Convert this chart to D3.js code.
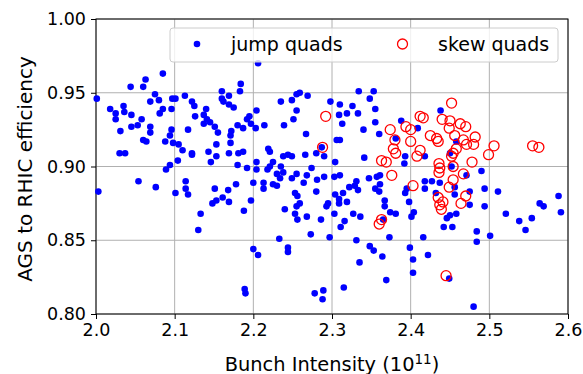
<!DOCTYPE html>
<html>
<head>
<meta charset="utf-8">
<script src="https://cdn.jsdelivr.net/npm/d3@7"></script>
<style>
  body { margin: 0; background: #fff; }
  text { font-family: "DejaVu Sans", sans-serif; }
</style>
</head>
<body>
<div id="chart"></div>
<script>
// data: [bunch intensity (1e11), AGS to RHIC efficiency]
const jumpQuads = [
  [2.001,0.946],[2.085,0.963],[2.063,0.959],[2.044,0.954],[2.060,0.954],[2.075,0.949],[2.069,0.944],[2.080,0.945],[2.085,0.939],[2.081,0.936],
  [2.096,0.939],[2.097,0.946],[2.101,0.946],[2.113,0.948],[2.122,0.944],[2.125,0.941],[2.126,0.934],[2.140,0.939],[2.137,0.935],[2.141,0.932],
  [2.137,0.929],[2.145,0.930],[2.151,0.927],[2.155,0.923],[2.153,0.915],[2.160,0.951],[2.169,0.948],[2.183,0.951],[2.184,0.956],[2.160,0.946],
  [2.162,0.944],[2.169,0.942],[2.175,0.940],[2.204,0.938],[2.206,0.970],[2.195,0.934],[2.192,0.932],[2.197,0.929],[2.203,0.926],[2.187,0.926],
  [2.180,0.928],[2.172,0.924],[2.171,0.921],[2.171,0.916],[2.169,0.909],[2.181,0.909],[2.187,0.910],[2.180,0.901],[2.192,0.899],[2.204,0.903],
  [2.204,0.898],[2.143,0.910],[2.153,0.907],[2.146,0.903],[2.117,0.925],[2.096,0.925],[2.094,0.921],[2.088,0.917],[2.098,0.916],[2.105,0.915],
  [2.110,0.911],[2.122,0.909],[2.122,0.908],[2.104,0.904],[2.094,0.901],[2.089,0.898],[2.018,0.939],[2.025,0.936],[2.025,0.932],[2.035,0.941],
  [2.036,0.937],[2.045,0.935],[2.058,0.932],[2.053,0.928],[2.045,0.927],[2.031,0.924],[2.069,0.927],[2.069,0.923],[2.060,0.918],[2.064,0.917],
  [2.030,0.909],[2.037,0.909],[2.054,0.890],[2.076,0.886],[2.101,0.882],[2.114,0.890],[2.114,0.885],[2.117,0.881],[2.133,0.868],[2.130,0.857],
  [2.003,0.883],[2.151,0.885],[2.148,0.875],[2.153,0.877],[2.161,0.879],[2.168,0.884],[2.169,0.876],[2.178,0.888],[2.197,0.877],[2.188,0.870],
  [2.200,0.889],[2.200,0.844],[2.206,0.840],[2.189,0.817],[2.190,0.814],[2.214,0.928],[2.239,0.928],[2.235,0.944],[2.249,0.945],[2.255,0.949],
  [2.259,0.950],[2.269,0.948],[2.255,0.938],[2.251,0.932],[2.267,0.922],[2.219,0.912],[2.221,0.910],[2.238,0.907],[2.244,0.908],[2.249,0.907],
  [2.266,0.908],[2.280,0.909],[2.290,0.907],[2.287,0.913],[2.225,0.903],[2.221,0.900],[2.218,0.898],[2.235,0.900],[2.274,0.899],[2.304,0.903],
  [2.298,0.944],[2.310,0.942],[2.309,0.935],[2.319,0.936],[2.313,0.929],[2.326,0.941],[2.333,0.936],[2.334,0.951],[2.348,0.946],[2.353,0.951],
  [2.355,0.939],[2.355,0.930],[2.340,0.925],[2.360,0.922],[2.306,0.918],[2.310,0.918],[2.341,0.906],[2.381,0.919],[2.388,0.931],[2.393,0.907],
  [2.392,0.902],[2.409,0.926],[2.438,0.938],[2.458,0.917],[2.418,0.907],[2.450,0.909],[2.452,0.900],[2.490,0.897],[2.238,0.896],[2.230,0.895],
  [2.234,0.892],[2.213,0.889],[2.213,0.885],[2.225,0.888],[2.230,0.887],[2.249,0.892],[2.255,0.895],[2.264,0.889],[2.268,0.894],[2.281,0.891],
  [2.280,0.883],[2.290,0.893],[2.303,0.893],[2.310,0.894],[2.322,0.886],[2.329,0.887],[2.333,0.884],[2.331,0.890],[2.347,0.892],[2.357,0.893],
  [2.361,0.894],[2.361,0.888],[2.355,0.885],[2.360,0.883],[2.395,0.885],[2.398,0.876],[2.404,0.869],[2.401,0.866],[2.304,0.881],[2.309,0.878],
  [2.314,0.882],[2.319,0.876],[2.309,0.875],[2.295,0.875],[2.293,0.873],[2.253,0.882],[2.256,0.880],[2.259,0.875],[2.255,0.873],[2.240,0.871],
  [2.253,0.868],[2.256,0.864],[2.268,0.866],[2.286,0.864],[2.303,0.868],[2.316,0.863],[2.311,0.859],[2.327,0.868],[2.336,0.866],[2.367,0.877],
  [2.367,0.873],[2.374,0.869],[2.381,0.868],[2.365,0.864],[2.373,0.852],[2.273,0.854],[2.297,0.852],[2.233,0.851],[2.244,0.845],[2.244,0.842],
  [2.331,0.850],[2.348,0.846],[2.353,0.843],[2.364,0.839],[2.335,0.835],[2.369,0.823],[2.315,0.818],[2.278,0.814],[2.289,0.816],[2.288,0.810],
  [2.393,0.882],[2.471,0.894],[2.494,0.885],[2.511,0.883],[2.588,0.880],[2.564,0.875],[2.569,0.873],[2.591,0.869],[2.521,0.868],[2.538,0.863],
  [2.554,0.865],[2.546,0.857],[2.501,0.853],[2.484,0.856],[2.484,0.849],[2.494,0.873],[2.475,0.874],[2.475,0.883],[2.458,0.868],[2.450,0.867],
  [2.446,0.865],[2.442,0.859],[2.453,0.859],[2.416,0.852],[2.399,0.845],[2.403,0.837],[2.403,0.828],[2.422,0.840],[2.449,0.824],[2.480,0.805],
  [2.418,0.890],[2.418,0.885],[2.427,0.890],[2.432,0.882],[2.437,0.889],[2.456,0.886],[2.456,0.881]
];

const skewQuads = [
  [2.292,0.934],[2.288,0.913],[2.374,0.925],[2.394,0.927],[2.400,0.925],[2.380,0.918],[2.400,0.917],[2.378,0.912],[2.381,0.909],[2.363,0.904],
  [2.369,0.903],[2.408,0.907],[2.412,0.934],[2.376,0.894],[2.452,0.943],[2.416,0.933],[2.440,0.932],[2.450,0.931],[2.463,0.929],[2.470,0.927],
  [2.449,0.926],[2.456,0.921],[2.425,0.921],[2.433,0.919],[2.435,0.917],[2.467,0.918],[2.482,0.920],[2.480,0.915],[2.471,0.915],[2.506,0.914],
  [2.499,0.908],[2.555,0.914],[2.563,0.913],[2.412,0.911],[2.458,0.912],[2.454,0.909],[2.452,0.907],[2.478,0.903],[2.436,0.902],[2.437,0.899],
  [2.454,0.900],[2.436,0.896],[2.454,0.891],[2.467,0.895],[2.449,0.886],[2.403,0.887],[2.435,0.879],[2.441,0.876],[2.437,0.874],[2.439,0.871],
  [2.470,0.880],[2.464,0.875],[2.445,0.826],[2.363,0.864],[2.360,0.861]
];

const xTicks = [2.0, 2.1, 2.2, 2.3, 2.4, 2.5, 2.6];
const yTicks = [0.80, 0.85, 0.90, 0.95, 1.00];
const seriesNames = ["jump quads", "skew quads"];

class ScatterVis {
  constructor(parentElement) {
    this.parentElement = parentElement;
    this.initVis();
  }

  initVis() {
    let vis = this;

    vis.margin = { top: 19, right: 15, bottom: 60, left: 96 };
    vis.width = 583 - vis.margin.left - vis.margin.right;
    vis.height = 374 - vis.margin.top - vis.margin.bottom;

    vis.svg = d3
      .select("#" + vis.parentElement)
      .append("svg")
      .attr("width", 583)
      .attr("height", 374)
      .append("g")
      .attr("transform", `translate(${vis.margin.left},${vis.margin.top})`);

    vis.x = d3.scaleLinear().domain([2.0, 2.6]).range([0, vis.width]);
    vis.y = d3.scaleLinear().domain([0.8, 1.0]).range([vis.height, 0]);

    // grid
    vis.svg
      .append("g")
      .selectAll("line")
      .data(xTicks)
      .enter()
      .append("line")
      .attr("x1", (d) => vis.x(d))
      .attr("x2", (d) => vis.x(d))
      .attr("y1", 0)
      .attr("y2", vis.height)
      .attr("stroke", "#b0b0b0")
      .attr("stroke-width", 1);

    vis.svg
      .append("g")
      .selectAll("line")
      .data(yTicks)
      .enter()
      .append("line")
      .attr("y1", (d) => vis.y(d))
      .attr("y2", (d) => vis.y(d))
      .attr("x1", 0)
      .attr("x2", vis.width)
      .attr("stroke", "#b0b0b0")
      .attr("stroke-width", 1);

    // axes
    vis.xAxis = d3.axisBottom(vis.x).tickValues(xTicks).tickSize(5).tickPadding(5).tickFormat(d3.format(".1f"));
    vis.yAxis = d3.axisLeft(vis.y).tickValues(yTicks).tickSize(5).tickPadding(5).tickFormat(d3.format(".2f"));

    vis.svg
      .append("g")
      .attr("class", "x-axis")
      .attr("transform", `translate(0,${vis.height})`)
      .call(vis.xAxis);

    vis.svg.append("g").attr("class", "y-axis").call(vis.yAxis);

    vis.svg.selectAll(".x-axis .domain, .y-axis .domain").remove();
    vis.svg.selectAll(".tick line").attr("stroke", "#000").attr("stroke-width", 1);
    vis.svg
      .selectAll(".tick text")
      .attr("fill", "#000")
      .style("font-family", "DejaVu Sans")
      .style("font-size", "17.5px");

    // frame
    vis.svg
      .append("rect")
      .attr("width", vis.width)
      .attr("height", vis.height)
      .attr("fill", "none")
      .attr("stroke", "#000")
      .attr("stroke-width", 1);

    // axis labels
    let xLabel = vis.svg
      .append("text")
      .attr("x", vis.width / 2)
      .attr("y", vis.height + 57)
      .attr("text-anchor", "middle")
      .style("font-size", "19.4px");
    xLabel.append("tspan").text("Bunch Intensity (10");
    xLabel.append("tspan").text("11").attr("dy", -7.5).style("font-size", "13.5px");
    xLabel.append("tspan").text(")").attr("dy", 7.5);

    vis.svg
      .append("text")
      .attr("transform", `translate(-64,${vis.height / 2 + 2.5}) rotate(-90)`)
      .attr("text-anchor", "middle")
      .style("font-size", "20px")
      .text("AGS to RHIC efficiency");

    vis.updateVis();
  }

  updateVis() {
    let vis = this;

    vis.svg
      .append("g")
      .attr("class", "jump")
      .selectAll("circle")
      .data(jumpQuads)
      .enter()
      .append("circle")
      .attr("cx", (d) => vis.x(d[0]))
      .attr("cy", (d) => vis.y(d[1]))
      .attr("r", 3.3)
      .attr("fill", "#0000ff");

    vis.svg
      .append("g")
      .attr("class", "skew")
      .selectAll("circle")
      .data(skewQuads)
      .enter()
      .append("circle")
      .attr("cx", (d) => vis.x(d[0]))
      .attr("cy", (d) => vis.y(d[1]))
      .attr("r", 5)
      .attr("fill", "none")
      .attr("stroke", "#ff0000")
      .attr("stroke-width", 1.3);

    // legend
    let lg = vis.svg.append("g").attr("class", "legend").attr("transform", "translate(74,9)");
    lg.append("rect")
      .attr("width", 388)
      .attr("height", 34)
      .attr("rx", 3)
      .attr("fill", "#fff")
      .attr("fill-opacity", 0.8)
      .attr("stroke", "#cccccc");

    lg.append("circle").attr("cx", 27).attr("cy", 16).attr("r", 3.3).attr("fill", "#0000ff");
    lg.append("text").attr("x", 61).attr("y", 22.5).style("font-size", "19px").text(seriesNames[0]);

    lg.append("circle")
      .attr("cx", 232.5)
      .attr("cy", 16)
      .attr("r", 5)
      .attr("fill", "none")
      .attr("stroke", "#ff0000")
      .attr("stroke-width", 1.3);
    lg.append("text").attr("x", 268).attr("y", 22.5).style("font-size", "19px").text(seriesNames[1]);
  }
}

new ScatterVis("chart");
</script>
</body>
</html>
